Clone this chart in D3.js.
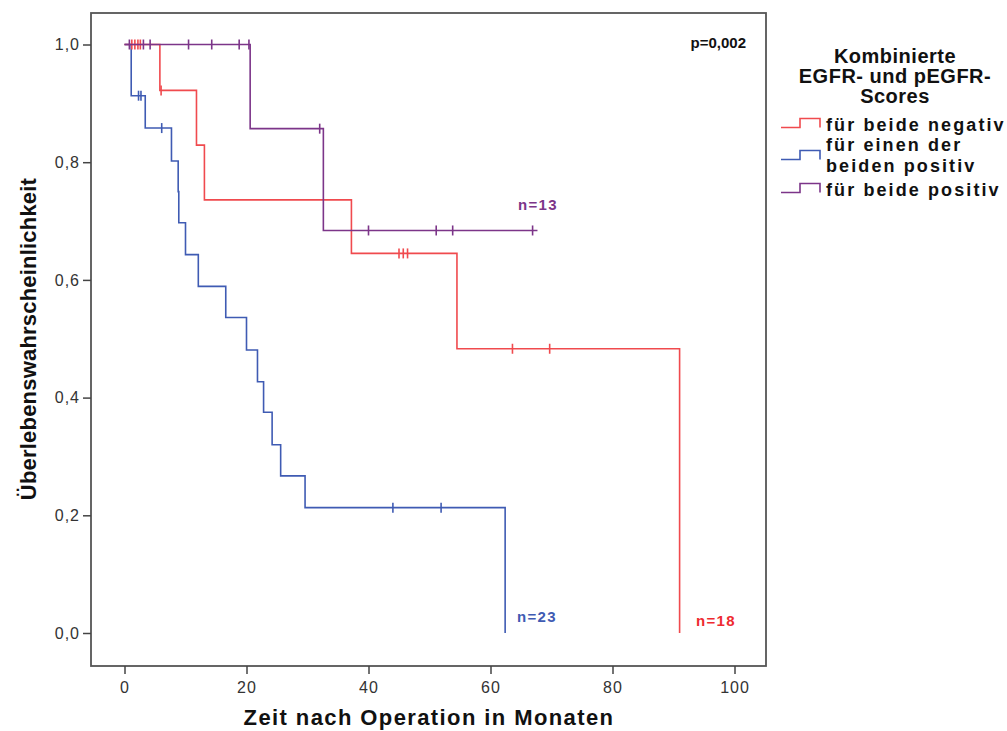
<!DOCTYPE html>
<html>
<head>
<meta charset="utf-8">
<script src="https://cdn.jsdelivr.net/npm/d3@7"></script>
<style>
  body { margin: 0; background: #fff; }
  svg { display: block; font-family: "Liberation Sans", Arial, sans-serif; }
  .tick-label { font-size: 16px; fill: #333; letter-spacing: 1px; }
  .axis-title { font-size: 22px; font-weight: bold; fill: #111; }
  .legend-title { font-size: 20px; font-weight: bold; fill: #111; letter-spacing: 0.5px; }
  .legend-text { font-size: 18px; font-weight: bold; fill: #111; letter-spacing: 2.1px; }
  .n-label { font-size: 15px; font-weight: bold; letter-spacing: 1.3px; }
</style>
</head>
<body>
<svg width="1007" height="731"></svg>
<script>
// Kaplan-Meier steps (months, survival)
const redTimes = [0, 5.8, 11.8, 13.1, 37.2, 54.5];
const redSurv = [1, 0.922, 0.829, 0.736, 0.645, 0.483];
const redEnd = 91.0;          // last event, drops to 0
const redCensored = [1.2, 1.7, 2.2, 2.6, 6.0, 45.0, 45.7, 46.4, 63.6, 69.7];

const blueTimes = [0, 1.1, 3.4, 7.7, 8.8, 8.9, 10.0, 12.1, 16.6, 20.0, 21.8, 22.8, 24.2, 25.6, 29.6];
const blueSurv = [1, 0.913, 0.858, 0.802, 0.750, 0.697, 0.643, 0.589, 0.536, 0.481, 0.427, 0.375, 0.320, 0.267, 0.213];
const blueEnd = 62.4;         // last event, drops to 0
const blueCensored = [2.3, 2.7, 6.1, 44.0, 51.9];

const purpleTimes = [0, 20.6, 32.6];
const purpleSurv = [1, 0.857, 0.684];
const purpleEnd = 67.7;       // last follow-up, stays flat
const purpleCensored = [0.8, 3.1, 4.2, 10.5, 14.3, 18.8, 20.4, 32.0, 40.0, 51.1, 53.8, 66.9];

const xTicks = [0, 20, 40, 60, 80, 100];
const yTicks = [0, 0.2, 0.4, 0.6, 0.8, 1.0];
const legendTitle = ["Kombinierte", "EGFR- und pEGFR-", "Scores"];
const legendLabels = [["für beide negativ"], ["für einen der", "beiden positiv"], ["für beide positiv"]];
const nLabels = ["n=18", "n=23", "n=13"];
const pText = "p=0,002";

const colors = ["#f04a4e", "#3f5bb3", "#7c3589"];
const labelColors = ["#ee2a30", "#3f5bb3", "#7c3589"];

const frame = { left: 91, top: 13, right: 766, bottom: 666 };

const svg = d3.select("svg");

const x = d3.scaleLinear().domain([0, 100]).range([124.5, 734.5]);
const y = d3.scaleLinear().domain([0, 1]).range([633, 44.5]);

const fmt = d => d3.format(".1f")(d).replace(".", ",");

// frame
svg.append("rect")
    .attr("x", frame.left).attr("y", frame.top)
    .attr("width", frame.right - frame.left)
    .attr("height", frame.bottom - frame.top)
    .attr("fill", "none")
    .attr("stroke", "#555")
    .attr("stroke-width", 1.8);

// y axis
const yAxis = svg.append("g")
    .attr("transform", `translate(${frame.left},0)`)
    .call(d3.axisLeft(y).tickValues(yTicks).tickFormat(fmt).tickSize(8).tickPadding(3));
yAxis.select(".domain").remove();
yAxis.selectAll("line").attr("stroke", "#444").attr("stroke-width", 1.5);
yAxis.selectAll("text").attr("class", "tick-label").attr("fill", null);

// x axis
const xAxis = svg.append("g")
    .attr("transform", `translate(0,${frame.bottom})`)
    .call(d3.axisBottom(x).tickValues(xTicks).tickFormat(d3.format("d")).tickSize(8).tickPadding(8));
xAxis.select(".domain").remove();
xAxis.selectAll("line").attr("stroke", "#444").attr("stroke-width", 1.5);
xAxis.selectAll("text").attr("class", "tick-label").attr("fill", null);
yAxis.attr("font-size", null).attr("font-family", null);
xAxis.attr("font-size", null).attr("font-family", null);

// axis titles
svg.append("text")
    .attr("class", "axis-title")
    .attr("x", 429).attr("y", 725)
    .attr("text-anchor", "middle")
    .style("letter-spacing", "1.4px")
    .text("Zeit nach Operation in Monaten");

svg.append("text")
    .attr("class", "axis-title")
    .attr("transform", "translate(36,339) rotate(-90)")
    .attr("text-anchor", "middle")
    .style("letter-spacing", "0.2px")
    .text("Überlebenswahrscheinlichkeit");

// curves
const groups = [
    { times: redTimes, surv: redSurv, end: redEnd, toZero: true, cens: redCensored },
    { times: blueTimes, surv: blueSurv, end: blueEnd, toZero: true, cens: blueCensored },
    { times: purpleTimes, surv: purpleSurv, end: purpleEnd, toZero: false, cens: purpleCensored }
];

const line = d3.line()
    .x(d => x(d[0]))
    .y(d => y(d[1]))
    .curve(d3.curveStepAfter);

function survAt(g, t) {
    let s = g.surv[0];
    g.times.forEach((tt, i) => { if (tt <= t) s = g.surv[i]; });
    return s;
}

[1, 0, 2].forEach(i => {
    const g = groups[i];
    const pts = g.times.map((t, j) => [t, g.surv[j]]);
    pts.push([g.end, g.toZero ? 0 : g.surv[g.surv.length - 1]]);
    svg.append("path")
        .attr("d", line(pts))
        .attr("fill", "none")
        .attr("stroke", colors[i])
        .attr("stroke-width", 1.6);

    svg.selectAll(".cens" + i)
        .data(g.cens)
        .enter().append("line")
        .attr("x1", d => x(d)).attr("x2", d => x(d))
        .attr("y1", d => y(survAt(g, d)) - 5)
        .attr("y2", d => y(survAt(g, d)) + 5)
        .attr("stroke", colors[i])
        .attr("stroke-width", 1.6);
});

// n labels
const nPos = [[696, 626], [517, 622], [518, 210]];
nLabels.forEach((t, i) => {
    svg.append("text")
        .attr("class", "n-label")
        .attr("x", nPos[i][0]).attr("y", nPos[i][1])
        .attr("fill", labelColors[i])
        .text(t);
});

svg.append("text")
    .attr("x", 746).attr("y", 48)
    .attr("text-anchor", "end")
    .attr("font-size", 15).attr("font-weight", "bold")
    .attr("fill", "#111")
    .text(pText);

// legend
legendTitle.forEach((t, i) => {
    svg.append("text")
        .attr("class", "legend-title")
        .attr("x", 895).attr("y", 63 + i * 20)
        .attr("text-anchor", "middle")
        .text(t);
});

const itemY = [123, 155, 188];
const itemBase = [130.5, 151, 196];
legendLabels.forEach((lines, i) => {
    const cy = itemY[i];
    svg.append("path")
        .attr("d", `M781,${cy + 4.5}H800V${cy - 4.5}H820V${cy + 4.5}`)
        .attr("fill", "none")
        .attr("stroke", colors[i])
        .attr("stroke-width", 1.6);
    // wrapped label kept as one text element
    const txt = svg.append("text")
        .attr("class", "legend-text")
        .attr("x", 826)
        .attr("y", itemBase[i]);
    lines.forEach((t, j) => {
        txt.append("tspan")
            .attr("x", 826)
            .attr("dy", j === 0 ? 0 : 21)
            .text(t);
    });
});
</script>
</body>
</html>
